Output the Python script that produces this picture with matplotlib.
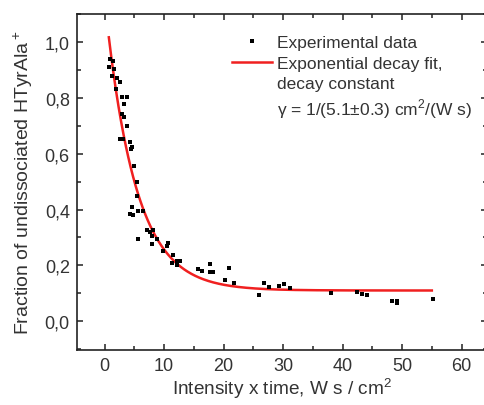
import numpy as np
import matplotlib
matplotlib.use("Agg")
import matplotlib.pyplot as plt
from matplotlib.lines import Line2D
from matplotlib.ticker import MultipleLocator, FuncFormatter

plt.rcParams['font.family'] = ['Liberation Sans', 'DejaVu Sans']
plt.rcParams['mathtext.fontset'] = 'custom'
plt.rcParams['mathtext.rm'] = 'Liberation Sans'

# экспериментальные точки (доза, доля)
dose = [0.84, 1.35, 0.67, 1.52, 1.18, 2.02, 2.53, 1.85, 2.86, 3.70,
        3.20, 2.86, 3.20, 3.70, 2.53, 3.03, 4.21, 4.55, 4.38, 4.88,
        5.39, 5.39, 4.55, 4.21, 4.71, 5.56, 6.40, 7.07, 7.58, 8.08,
        7.91, 5.56, 7.91, 8.75, 9.76, 10.44, 10.60, 11.45, 11.28, 12.12,
        12.63, 12.12, 15.66, 16.33, 17.68, 17.68, 18.18, 20.88, 20.20, 21.70,
        25.90, 26.80, 27.60, 29.30, 30.10, 31.10, 38.00, 42.40, 43.30, 44.10,
        48.30, 49.20, 49.20, 55.20]
fraction = [0.940, 0.933, 0.912, 0.904, 0.879, 0.872, 0.858, 0.833, 0.804, 0.804,
            0.779, 0.743, 0.732, 0.700, 0.653, 0.653, 0.643, 0.625, 0.618, 0.557,
            0.499, 0.449, 0.410, 0.385, 0.381, 0.395, 0.395, 0.327, 0.320, 0.327,
            0.306, 0.295, 0.277, 0.295, 0.252, 0.270, 0.281, 0.238, 0.209, 0.216,
            0.216, 0.202, 0.187, 0.180, 0.205, 0.177, 0.177, 0.191, 0.148, 0.137,
            0.094, 0.137, 0.123, 0.127, 0.134, 0.119, 0.101, 0.105, 0.098, 0.094,
            0.073, 0.073, 0.066, 0.080]

# параметры экспоненциальной подгонки
fit_offset = 0.11
fit_amp = 1.04
fit_tau = 5.1
fit_range = (0.7, 55.0)

fig = plt.figure(figsize=(4.84, 4.06), dpi=100)
ax = fig.add_axes([0.1585, 0.1355, 0.848, 0.8275])

ax.plot(dose, fraction, 's', color='black', markersize=3.3, markeredgewidth=0, zorder=3)

xf = np.linspace(fit_range[0], fit_range[1], 400)
yf = fit_offset + fit_amp * np.exp(-xf / fit_tau)
ax.plot(xf, yf, color='#f02020', linewidth=1.8, zorder=2)

ax.set_xlim(-4.7, 64.3)
ax.set_ylim(-0.103, 1.10)

ax.xaxis.set_major_locator(MultipleLocator(10))
ax.xaxis.set_minor_locator(MultipleLocator(5))
ax.yaxis.set_major_locator(MultipleLocator(0.2))
ax.yaxis.set_minor_locator(MultipleLocator(0.1))
ax.yaxis.set_major_formatter(FuncFormatter(lambda v, p: f"{v:.1f}".replace('.', ',')))

ax.tick_params(which='both', direction='in', top=True, right=True, width=1.1,
               labelsize=13, colors='#222222', labelcolor='#333333')
ax.tick_params(which='major', length=4.5, pad=5)
ax.tick_params(which='minor', length=3)
for s in ax.spines.values():
    s.set_linewidth(1.2)
    s.set_color('#222222')

ax.set_xlabel("Intensity x time, W s / cm$^2$", fontsize=13.7, color='#333333', labelpad=1)
ax.set_ylabel("Fraction of undissociated HTyrAla$^+$", fontsize=14, color='#333333', labelpad=7)

handles = [Line2D([], [], marker='s', color='black', linestyle='none', markersize=3.3, markeredgewidth=0),
           Line2D([], [], color='#f02020', linewidth=1.8),
           Line2D([], [], linestyle='none'),
           Line2D([], [], linestyle='none')]
labels = ["Experimental data", "Exponential decay fit,", "decay constant",
          "\u03b3 = 1/(5.1\u00b10.3) cm$^2$/(W s)"]
leg = ax.legend(handles, labels, loc='upper left', bbox_to_anchor=(0.356, 0.963),
                frameon=False, fontsize=12.5, handlelength=2.35, handletextpad=0.25,
                labelspacing=0.3, borderpad=0, labelcolor='#333333')

fig.savefig("out.png", dpi=100)
